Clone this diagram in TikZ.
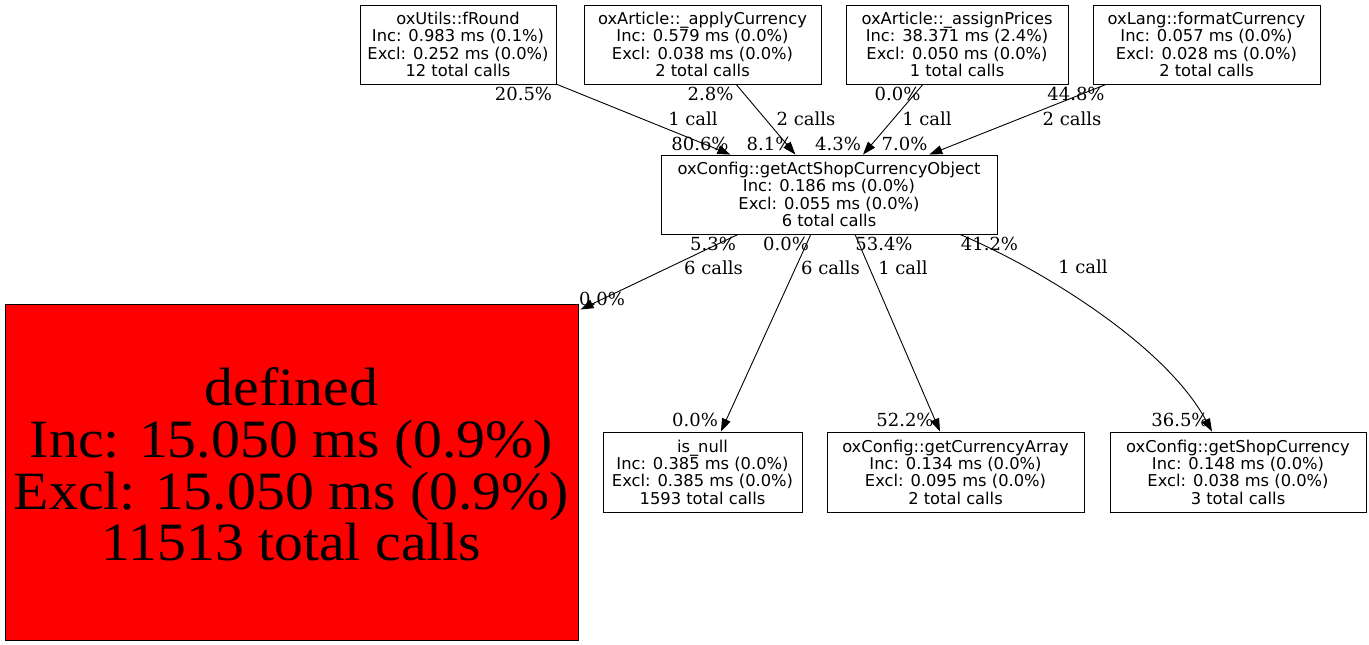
\documentclass[tikz,border=0pt]{standalone}
\usepackage{fontspec}
\usetikzlibrary{arrows.meta,calc}
\newfontfamily\nodefont{DejaVu Sans}
\newfontfamily\lblfont{DejaVu Serif}
\newfontfamily\bigfont{Liberation Serif}[FakeStretch=1.07]
\begin{document}
\begin{tikzpicture}[x=1pt,y=-1pt,
  fn/.style={draw=black, line width=0.9pt, rectangle, inner sep=0pt, align=center,
    minimum height=79pt, font=\nodefont\fontsize{16.3}{17.3}\selectfont},
  lbl/.style={font=\lblfont\fontsize{18}{20}\selectfont, anchor=base, inner sep=0pt},
  edge/.style={line width=0.9pt, -{Triangle[length=13pt,width=9pt]}}]
\useasboundingbox[fill=white] (0,0) rectangle (1369,645);

% nodes
\node[fn, minimum width=196pt] (fr) at (458,44.5) {oxUtils::fRound\\Inc: 0.983 ms (0.1\%)\\Excl: 0.252 ms (0.0\%)\\12 total calls};
\node[fn, minimum width=237pt] (ac) at (702.5,44.5) {oxArticle::\_applyCurrency\\Inc: 0.579 ms (0.0\%)\\Excl: 0.038 ms (0.0\%)\\2 total calls};
\node[fn, minimum width=222pt] (ap) at (957,44.5) {oxArticle::\_assignPrices\\Inc: 38.371 ms (2.4\%)\\Excl: 0.050 ms (0.0\%)\\1 total calls};
\node[fn, minimum width=227pt] (fc) at (1206.5,44.5) {oxLang::formatCurrency\\Inc: 0.057 ms (0.0\%)\\Excl: 0.028 ms (0.0\%)\\2 total calls};
\node[fn, minimum width=336pt] (c) at (829,194.5) {oxConfig::getActShopCurrencyObject\\Inc: 0.186 ms (0.0\%)\\Excl: 0.055 ms (0.0\%)\\6 total calls};
\node[draw=black, line width=0.9pt, fill=red, rectangle, inner sep=0pt, align=center,
  minimum width=573pt, minimum height=336pt,
  font=\bigfont\fontsize{54}{51.8}\selectfont] (d) at (291.5,472) {defined\\Inc: 15.050 ms (0.9\%)\\Excl: 15.050 ms (0.9\%)\\11513 total calls\rule[-15.5pt]{0pt}{15.5pt}};
\node[fn, minimum width=199pt, minimum height=80pt] (n) at (702.5,472) {is\_null\\Inc: 0.385 ms (0.0\%)\\Excl: 0.385 ms (0.0\%)\\1593 total calls};
\node[fn, minimum width=257pt, minimum height=80pt] (ca) at (955.5,472) {oxConfig::getCurrencyArray\\Inc: 0.134 ms (0.0\%)\\Excl: 0.095 ms (0.0\%)\\2 total calls};
\node[fn, minimum width=256pt, minimum height=80pt] (sc) at (1238,472) {oxConfig::getShopCurrency\\Inc: 0.148 ms (0.0\%)\\Excl: 0.038 ms (0.0\%)\\3 total calls};

% edges
\draw[edge] (fr) -- (c);
\draw[edge] (ac) -- (c);
\draw[edge] (ap) -- (c);
\draw[edge] (fc) -- (c);
\draw[edge] ($(c.south)+(-91,0)$) -- ($(d.north east)+(2,6)$);
\draw[edge] (c) -- (n);
\draw[edge] ($(c.south)+(26,0)$) -- ($(ca.north)+(-15.5,0)$);
\draw[edge] ($(c.south)+(131,0)$) .. controls ($(c.south)+(211,34)$) and ($(sc.north)+(-73,-87)$) .. ($(sc.north)+(-26,0)$);

% labels
\node[lbl] (l1) at (523.5,100.5) {20.5\%};
\node[lbl] (l2) at (693,125.5) {1 call};
\node[lbl] (l3) at (700,150.5) {80.6\%};
\node[lbl] (l4) at (710.5,100.5) {2.8\%};
\node[lbl] (l5) at (806,125.5) {2 calls};
\node[lbl] (l6) at (769.5,150.5) {8.1\%};
\node[lbl] (l7) at (897.5,100.5) {0.0\%};
\node[lbl] (l8) at (927,125.5) {1 call};
\node[lbl] (l9) at (838,150.5) {4.3\%};
\node[lbl] (l10) at (1076,100.5) {44.8\%};
\node[lbl] (l11) at (1072,125.5) {2 calls};
\node[lbl] (l12) at (904.5,150.5) {7.0\%};
\node[lbl] (l13) at (713,250) {5.3\%};
\node[lbl] (l14) at (713.5,274.5) {6 calls};
\node[lbl] (l15) at (602,305) {0.0\%};
\node[lbl] (l16) at (786,250) {0.0\%};
\node[lbl] (l17) at (830.5,274.5) {6 calls};
\node[lbl] (l18) at (695,426.5) {0.0\%};
\node[lbl] (l19) at (884,250) {53.4\%};
\node[lbl] (l20) at (903,274.5) {1 call};
\node[lbl] (l21) at (905,426.5) {52.2\%};
\node[lbl] (l22) at (989.5,250) {41.2\%};
\node[lbl] (l23) at (1083,273.5) {1 call};
\node[lbl] (l24) at (1180,426.5) {36.5\%};
\end{tikzpicture}
\end{document}
